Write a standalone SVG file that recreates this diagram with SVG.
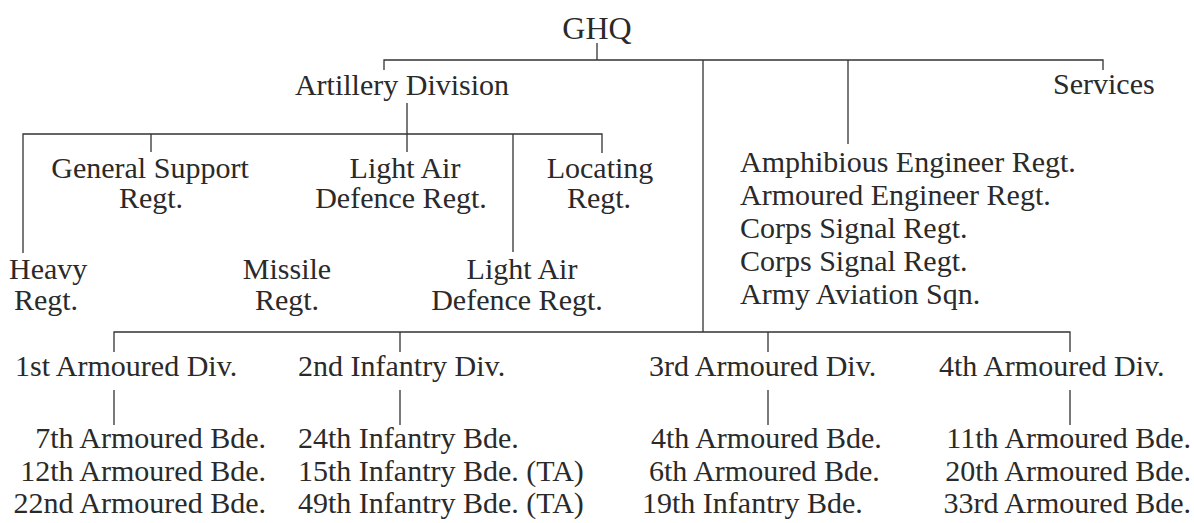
<svg xmlns="http://www.w3.org/2000/svg" width="1194" height="523" viewBox="0 0 1194 523">
<style>
text{font-family:"Liberation Serif","Times New Roman",serif;font-size:30px;fill:#2a2a2a;}
.m{text-anchor:middle;}
.e{text-anchor:end;}
.big{font-size:32px;}
.c{fill:none;stroke:#333;stroke-width:1.3;}
</style>
<rect width="1194" height="523" fill="#fff"/>
<g id="connectors" class="c">
<path d="M597 43V60M384 70V60H1103V70M703 60V332M848 60V144"/>
<path d="M407 103V152M23 253V134H602V153M151 134V152M513 134V252"/>
<path d="M114 352V332H1070V352M400 332V352M768 332V352"/>
<path d="M114 390V425M400 390V425M768 390V425M1070 390V425"/>
</g>
<g id="ghq"><text class="m big" x="597" y="39">GHQ</text></g>
<g id="artillery"><text class="m" x="402" y="95">Artillery Division</text></g>
<g id="services"><text x="1053" y="94">Services</text></g>
<g id="general-support"><text class="m" x="150" y="178">General Support</text><text class="m" x="151" y="208">Regt.</text></g>
<g id="lad1"><text class="m" x="405" y="178">Light Air</text><text class="m" x="401" y="208">Defence Regt.</text></g>
<g id="locating"><text class="m" x="600" y="178">Locating</text><text class="m" x="599" y="208">Regt.</text></g>
<g id="heavy"><text x="9" y="279">Heavy</text><text class="m" x="46" y="310">Regt.</text></g>
<g id="missile"><text class="m" x="287" y="279">Missile</text><text class="m" x="287" y="310">Regt.</text></g>
<g id="lad2"><text class="m" x="522" y="279">Light Air</text><text class="m" x="517" y="310">Defence Regt.</text></g>
<g id="corps-troops">
<text x="740" y="172">Amphibious Engineer Regt.</text>
<text x="740" y="205">Armoured Engineer Regt.</text>
<text x="740" y="238">Corps Signal Regt.</text>
<text x="740" y="271">Corps Signal Regt.</text>
<text x="740" y="304">Army Aviation Sqn.</text>
</g>
<g id="div1"><text x="15" y="376">1st Armoured Div.</text></g>
<g id="div2"><text x="298" y="376">2nd Infantry Div.</text></g>
<g id="div3"><text x="649" y="376">3rd Armoured Div.</text></g>
<g id="div4"><text x="939" y="376">4th Armoured Div.</text></g>
<g id="bdes1">
<text class="e" x="266" y="448">7th Armoured Bde.</text>
<text class="e" x="266" y="481">12th Armoured Bde.</text>
<text class="e" x="266" y="513">22nd Armoured Bde.</text>
</g>
<g id="bdes2">
<text x="298" y="448">24th Infantry Bde.</text>
<text x="298" y="481">15th Infantry Bde. (TA)</text>
<text x="298" y="513">49th Infantry Bde. (TA)</text>
</g>
<g id="bdes3">
<text x="651" y="448">4th Armoured Bde.</text>
<text x="649" y="481">6th Armoured Bde.</text>
<text x="642" y="513">19th Infantry Bde.</text>
</g>
<g id="bdes4">
<text class="e" x="1191" y="448">11th Armoured Bde.</text>
<text class="e" x="1191" y="481">20th Armoured Bde.</text>
<text class="e" x="1191" y="513">33rd Armoured Bde.</text>
</g>
</svg>
